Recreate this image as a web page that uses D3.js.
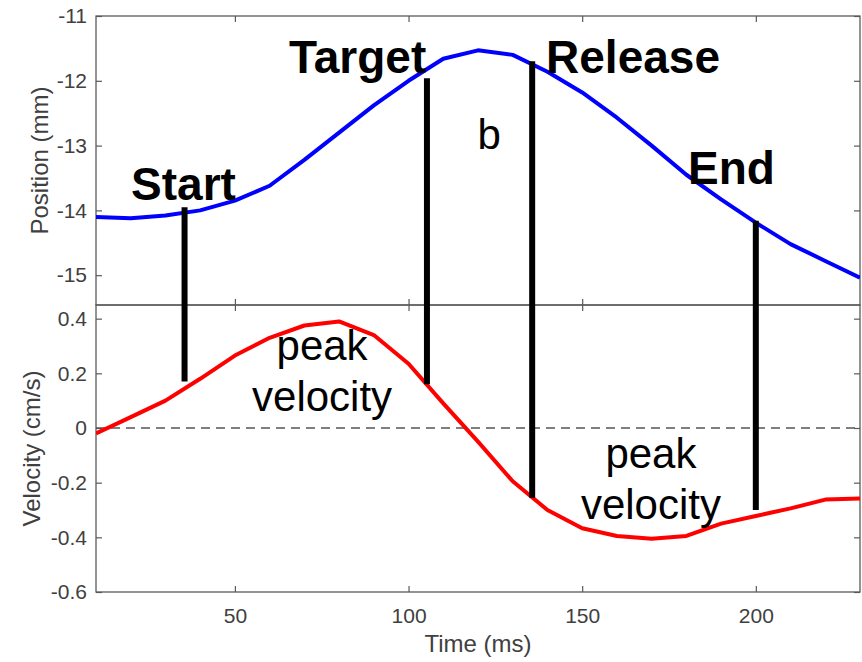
<!DOCTYPE html>
<html>
<head>
<meta charset="utf-8">
<script src="https://cdn.jsdelivr.net/npm/d3@7"></script>
<style>
body{margin:0;background:#fff;}
text{font-family:"Liberation Sans",Arial,sans-serif;}
</style>
</head>
<body>
<svg id="svg" width="862" height="662"></svg>
<script>
// sampled every 10 ms
var times=[10,20,30,40,50,60,70,80,90,100,110,120,130,140,150,160,170,180,190,200,210,220,230];
var position=[-14.10,-14.12,-14.08,-14.00,-13.85,-13.62,-13.22,-12.80,-12.38,-12.00,-11.66,-11.53,-11.60,-11.86,-12.18,-12.57,-13.00,-13.45,-13.83,-14.19,-14.52,-14.78,-15.04];
var velocity=[-0.02,0.04,0.10,0.18,0.265,0.33,0.375,0.39,0.34,0.235,0.09,-0.05,-0.195,-0.30,-0.367,-0.395,-0.405,-0.395,-0.35,-0.322,-0.294,-0.262,-0.258];

var eventNames=["Start","Target","Release","End"];
var eventTimes=[35.5,105.3,135.6,200];
var eventTopPos=[-13.95,-11.96,-11.70,-14.16];
var eventBottomVel=[0.17,0.16,-0.255,-0.30];
var eventLabelTimes=[20.1,65.6,139.6,180.5];
var eventLabelPos=[-13.84,-11.88,-11.88,-13.59];

var posTicks=[-11,-12,-13,-14,-15];
var velTicks=[0.4,0.2,0,-0.2,-0.4,-0.6];
var timeTicks=[50,100,150,200];

function fmt(d){return String(d);}

function init(){
    var svg=d3.select("#svg");
    var left=96,right=860,top1=16,mid=305,bot=592;

    var x=d3.scaleLinear().domain([10,230]).range([left,right]);
    var yPos=d3.scaleLinear().domain([-15.46,-11]).range([mid,top1]);
    var yVel=d3.scaleLinear().domain([-0.6,0.45]).range([bot,mid]);

    svg.append("clipPath").attr("id","clip")
    .append("rect").attr("x",left).attr("y",top1).attr("width",right-left).attr("height",bot-top1);

    // panels: box + ticks
    function panel(ys,ticks,y0,y1,showX){
	var g=svg.append("g");
	g.append("g").attr("transform","translate("+left+",0)")
	.call(d3.axisLeft(ys).tickValues(ticks).tickFormat(fmt).tickSizeInner(-6).tickSizeOuter(0).tickPadding(9));
	g.append("g").attr("transform","translate("+right+",0)")
	.call(d3.axisRight(ys).tickValues(ticks).tickFormat("").tickSizeInner(-6).tickSizeOuter(0));
	g.append("g").attr("transform","translate(0,"+y0+")")
	.call(d3.axisTop(x).tickValues(timeTicks).tickFormat("").tickSizeInner(-6).tickSizeOuter(0));
	g.append("g").attr("transform","translate(0,"+y1+")")
	.call(d3.axisBottom(x).tickValues(timeTicks).tickFormat(showX?fmt:"").tickSizeInner(-6).tickSizeOuter(0).tickPadding(16));
	g.selectAll(".domain").remove();
	g.selectAll(".tick line").attr("stroke","#5a5a5a").attr("stroke-width",1.2);
	g.selectAll(".tick text").attr("fill","#404040").attr("font-size","21px").attr("font-family","Liberation Sans, Arial, sans-serif");
	g.append("rect").attr("x",left).attr("y",y0).attr("width",right-left).attr("height",y1-y0)
	.attr("fill","none").attr("stroke","#5a5a5a").attr("stroke-width",1.3);
    }
    panel(yPos,posTicks,top1,mid,false);
    panel(yVel,velTicks,mid,bot,true);

    // zero line
    svg.append("line").attr("x1",left).attr("x2",right).attr("y1",yVel(0)).attr("y2",yVel(0))
    .attr("stroke","#555").attr("stroke-width",1.4).attr("stroke-dasharray","9,6");

    var posLine=d3.line().x(function(d,i){return x(times[i])}).y(function(d){return yPos(d)});
    var velLine=d3.line().x(function(d,i){return x(times[i])}).y(function(d){return yVel(d)});

    svg.append("path").datum(position).attr("d",posLine).attr("clip-path","url(#clip)")
    .attr("fill","none").attr("stroke","#0000ff").attr("stroke-width",4).attr("stroke-linejoin","round");
    svg.append("path").datum(velocity).attr("d",velLine).attr("clip-path","url(#clip)")
    .attr("fill","none").attr("stroke","#ff0000").attr("stroke-width",4).attr("stroke-linejoin","round");

    // event markers
    svg.selectAll("line.ev").data(eventTimes).enter().append("line").attr("class","ev")
    .attr("x1",function(d){return x(d)}).attr("x2",function(d){return x(d)})
    .attr("y1",function(d,i){return yPos(eventTopPos[i])})
    .attr("y2",function(d,i){return yVel(eventBottomVel[i])})
    .attr("stroke","#000").attr("stroke-width",6);

    svg.selectAll("text.ev").data(eventNames).enter().append("text").attr("class","ev")
    .text(function(d){return d})
    .attr("x",function(d,i){return x(eventLabelTimes[i])})
    .attr("y",function(d,i){return yPos(eventLabelPos[i])})
    .attr("font-size","46px").attr("font-weight","bold").attr("fill","#000");

    svg.append("text").text("b").attr("x",x(123.2)).attr("y",yPos(-13.05))
    .attr("text-anchor","middle").attr("font-size","42px").attr("fill","#000");

    function note(t,v){
	var tx=svg.append("text").attr("text-anchor","middle").attr("font-size","42px").attr("fill","#000");
	tx.append("tspan").attr("x",x(t)).attr("y",yVel(v)).text("peak");
	tx.append("tspan").attr("x",x(t)).attr("dy",51).text("velocity");
    }
    note(75.1,0.248);
    note(169.8,-0.146);

    // axis titles
    svg.append("text").text("Position (mm)")
    .attr("transform","translate(48,"+((top1+mid)/2)+") rotate(-90)")
    .attr("text-anchor","middle").attr("font-size","24px").attr("fill","#404040");
    svg.append("text").text("Velocity (cm/s)")
    .attr("transform","translate(40,"+((mid+bot)/2)+") rotate(-90)")
    .attr("text-anchor","middle").attr("font-size","24px").attr("fill","#404040");
    svg.append("text").text("Time (ms)").attr("x",(left+right)/2).attr("y",652)
    .attr("text-anchor","middle").attr("font-size","24px").attr("fill","#404040");
}

init();
</script>
</body>
</html>
